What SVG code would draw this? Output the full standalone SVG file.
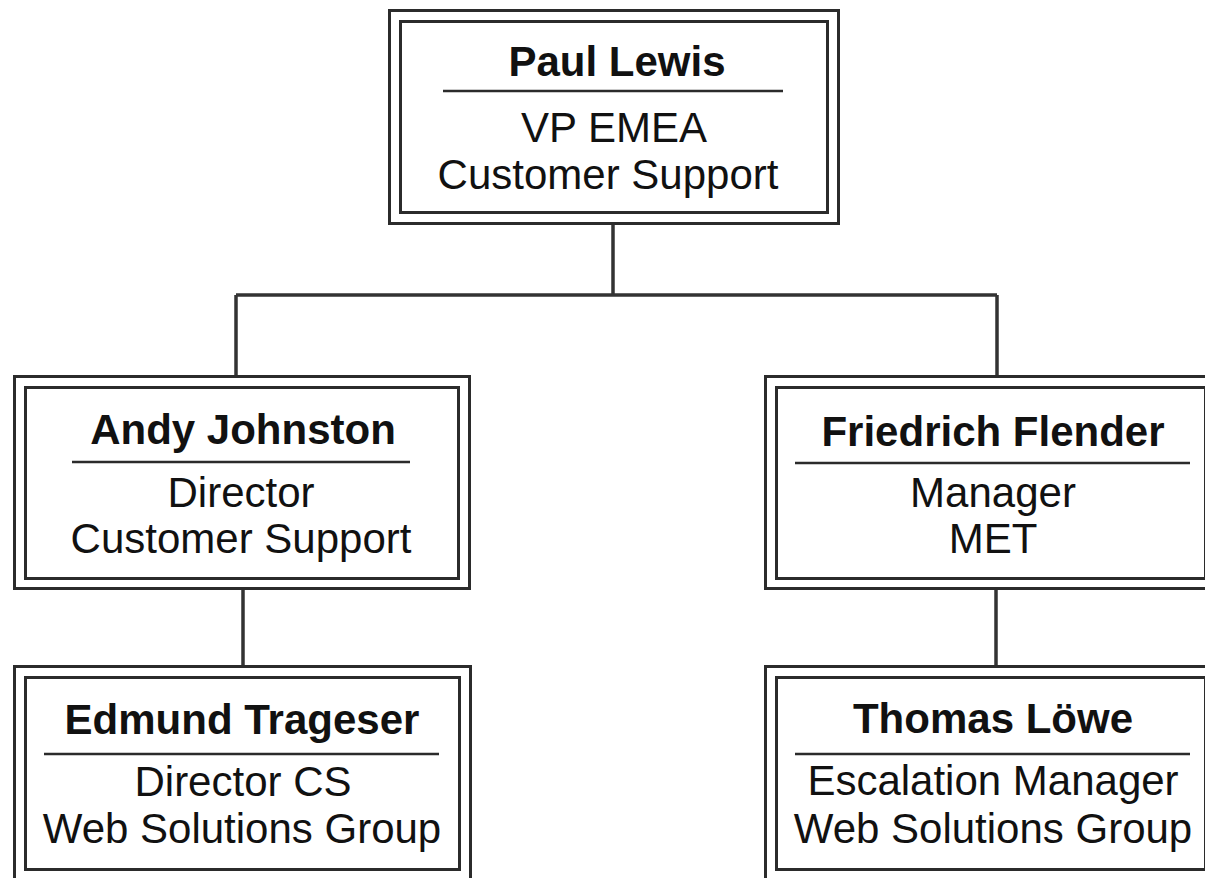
<svg xmlns="http://www.w3.org/2000/svg" width="1205" height="878" viewBox="0 0 1205 878">
<style>
.box{fill:none;stroke:#2b2b2b;stroke-width:3}
.sep{stroke:#2b2b2b;stroke-width:2.5}
.conn{fill:none;stroke:#333;stroke-width:3.5}
text{font-family:"Liberation Sans",Arial,sans-serif;font-size:42px;fill:#111;text-anchor:middle}
.name{font-weight:bold}
</style>
<rect width="1205" height="878" fill="#fff"/>
<g id="connectors">
<path class="conn" d="M613 224V295M236 295H997M236 295V376M997 295V376"/>
<path class="conn" d="M243 590V666M996 590V666"/>
</g>
<g id="paul-lewis">
<rect class="box" x="389.5" y="10.5" width="449" height="213"/>
<rect class="box" x="400.5" y="21.5" width="427" height="191"/>
<text class="name" x="617" y="76">Paul Lewis</text>
<line class="sep" x1="443" y1="91" x2="783" y2="91"/>
<text x="614" y="142">VP EMEA</text>
<text x="608" y="189">Customer Support</text>
</g>
<g id="andy-johnston">
<rect class="box" x="14.5" y="376.5" width="455" height="212"/>
<rect class="box" x="25.5" y="387.5" width="433" height="191"/>
<text class="name" x="243" y="444">Andy Johnston</text>
<line class="sep" x1="72" y1="462" x2="410" y2="462"/>
<text x="241" y="507">Director</text>
<text x="241" y="553">Customer Support</text>
</g>
<g id="friedrich-flender">
<rect class="box" x="765.5" y="376.5" width="452" height="212"/>
<rect class="box" x="776.5" y="387.5" width="429" height="191"/>
<text class="name" x="993" y="446">Friedrich Flender</text>
<line class="sep" x1="795" y1="463" x2="1190" y2="463"/>
<text x="993" y="507">Manager</text>
<text x="993" y="553">MET</text>
</g>
<g id="edmund-trageser">
<rect class="box" x="14.5" y="666.5" width="456" height="215"/>
<rect class="box" x="25.5" y="677.5" width="434" height="192"/>
<text class="name" x="242" y="734">Edmund Trageser</text>
<line class="sep" x1="44" y1="754" x2="439" y2="754"/>
<text x="243" y="796">Director CS</text>
<text x="242" y="843">Web Solutions Group</text>
</g>
<g id="thomas-loewe">
<rect class="box" x="765.5" y="666.5" width="452" height="215"/>
<rect class="box" x="776.5" y="677.5" width="429" height="192"/>
<text class="name" x="993" y="733">Thomas Löwe</text>
<line class="sep" x1="795" y1="754" x2="1190" y2="754"/>
<text x="993" y="795">Escalation Manager</text>
<text x="993" y="843">Web Solutions Group</text>
</g>
</svg>
